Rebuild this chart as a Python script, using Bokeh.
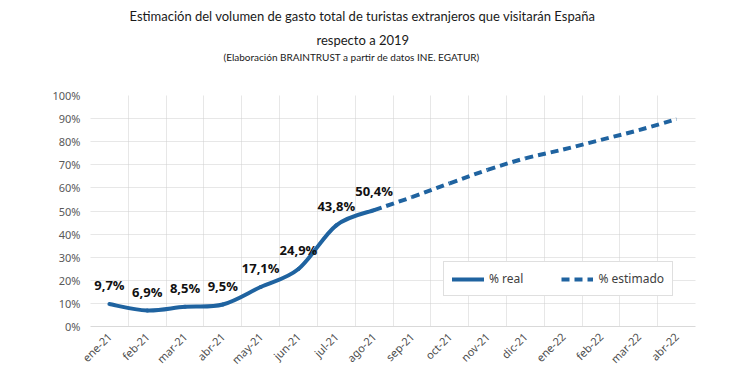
from bokeh.plotting import figure
from bokeh.models import Range1d, FixedTicker, Title, Legend, LegendItem, ColumnDataSource, LabelSet
from bokeh.core.properties import value
from bokeh.embed import file_html
from bokeh.resources import INLINE

months = ["ene-21", "feb-21", "mar-21", "abr-21", "may-21", "jun-21", "jul-21", "ago-21",
          "sep-21", "oct-21", "nov-21", "dic-21", "ene-22", "feb-22", "mar-22", "abr-22"]
real_values = [9.7, 6.9, 8.5, 9.5, 17.1, 24.9, 43.8, 50.4]
real_labels = ["9,7%", "6,9%", "8,5%", "9,5%", "17,1%", "24,9%", "43,8%", "50,4%"]
est_months = ["ago-21", "sep-21", "oct-21", "nov-21", "dic-21", "ene-22", "feb-22", "mar-22", "abr-22"]
est_values = [50.4, 56.0, 62.0, 67.8, 72.8, 76.6, 80.8, 85.0, 89.8]
y_ticks = [0, 10, 20, 30, 40, 50, 60, 70, 80, 90, 100]

BLUE = "#1f63a0"

def smooth_segments(xs, ys):
    # Catmull-Rom -> cubic bezier control points for a smoothed line through the points
    n = len(xs)
    segs = dict(x0=[], y0=[], x1=[], y1=[], cx0=[], cy0=[], cx1=[], cy1=[])
    for i in range(n - 1):
        i0 = max(i - 1, 0)
        i3 = min(i + 2, n - 1)
        segs["x0"].append(xs[i]); segs["y0"].append(ys[i])
        segs["x1"].append(xs[i + 1]); segs["y1"].append(ys[i + 1])
        segs["cx0"].append(xs[i] + (xs[i + 1] - xs[i0]) / 6)
        segs["cy0"].append(ys[i] + (ys[i + 1] - ys[i0]) / 6)
        segs["cx1"].append(xs[i + 1] - (xs[i3] - xs[i]) / 6)
        segs["cy1"].append(ys[i + 1] - (ys[i3] - ys[i]) / 6)
    return segs

x_real = [months.index(m) for m in months[:len(real_values)]]
x_est = [months.index(m) for m in est_months]

p = figure(width=750, height=375, output_backend="svg", toolbar_location=None,
           x_range=Range1d(-0.5, len(months) - 0.5), y_range=Range1d(0, 100),
           min_border_left=90, min_border_right=55, min_border_bottom=47, min_border_top=0)
p.outline_line_color = None
p.background_fill_color = "white"
p.border_fill_color = "white"

TF = "Lato"
spacer = Title(text=" ", align="left", text_font=TF, text_font_size="20px", text_font_style="normal",
               standoff=6)
t3 = Title(text="(Elaboración BRAINTRUST a partir de datos INE. EGATUR)", align="left",
           text_font=TF, text_font_size="10px", text_font_style="normal", text_color="#1a1a1a",
           offset=133, standoff=2)
t2 = Title(text="respecto a 2019", align="left", text_font=TF, text_font_size="13px",
           text_font_style="normal", text_color="#1a1a1a", offset=226, standoff=0)
t1 = Title(text="Estimación del volumen de gasto total de turistas extranjeros que visitarán España",
           align="left", text_font=TF, text_font_size="13px", text_font_style="normal",
           text_color="#1a1a1a", offset=39, standoff=11)
p.title.visible = False
p.add_layout(spacer, "above")
p.add_layout(t3, "above")
p.add_layout(t2, "above")
p.add_layout(t1, "above")

# axes
p.xaxis.ticker = FixedTicker(ticks=list(range(len(months))))
p.xaxis.major_label_overrides = {i: m for i, m in enumerate(months)}
p.xaxis.major_label_orientation = 0.785
p.xaxis.major_label_text_font = "Noto Sans"
p.xaxis.major_label_text_font_size = "11px"
p.xaxis.major_label_text_color = "#4d4d4d"
p.xaxis.major_tick_line_color = None
p.xaxis.minor_tick_line_color = None
p.xaxis.major_tick_out = 0
p.xaxis.major_tick_in = 0
p.xaxis.minor_tick_out = 0
p.xaxis.axis_line_color = "#d9d9d9"
p.xaxis.major_label_standoff = 8

p.yaxis.ticker = FixedTicker(ticks=y_ticks)
p.yaxis.major_label_overrides = {v: f"{v}%" for v in y_ticks}
p.yaxis.major_label_text_font = "Noto Sans"
p.yaxis.major_label_text_font_size = "11px"
p.yaxis.major_label_text_color = "#595959"
p.yaxis.major_tick_line_color = None
p.yaxis.minor_tick_line_color = None
p.yaxis.major_tick_out = 0
p.yaxis.major_tick_in = 0
p.yaxis.minor_tick_out = 0
p.yaxis.axis_line_color = None
p.yaxis.major_label_standoff = 10

p.ygrid.ticker = FixedTicker(ticks=y_ticks)
p.ygrid.grid_line_color = "#cfcfcf"
p.ygrid.grid_line_dash = "1 1"
p.xgrid.ticker = FixedTicker(ticks=[i - 0.5 for i in range(len(months) + 1)])
p.xgrid.grid_line_color = "#cfcfcf"
p.xgrid.grid_line_dash = "1 1"

# lines
src_real = ColumnDataSource(smooth_segments(x_real, real_values))
src_est = ColumnDataSource(smooth_segments(x_est, est_values))
r_real = p.bezier(x0="x0", y0="y0", x1="x1", y1="y1", cx0="cx0", cy0="cy0", cx1="cx1", cy1="cy1",
                  source=src_real, line_color=BLUE, line_width=4, line_cap="round")
r_est = p.bezier(x0="x0", y0="y0", x1="x1", y1="y1", cx0="cx0", cy0="cy0", cx1="cx1", cy1="cy1",
                 source=src_est, line_color=BLUE, line_width=4, line_dash="8 5")

# data labels
lab_src = ColumnDataSource(dict(x=x_real, y=real_values, t=real_labels))
labels = LabelSet(x="x", y="y", text="t", source=lab_src, text_align="center",
                  text_baseline="bottom", y_offset=10, text_font=value("Open Sans"),
                  text_font_style="bold", text_font_size="13px", text_color="#111111")
p.add_layout(labels)

# legend
legend = Legend(items=[LegendItem(label="% real", renderers=[r_real], index=0),
                       LegendItem(label="% estimado", renderers=[r_est], index=0)],
                orientation="horizontal", location=(353, 30), glyph_width=32, glyph_height=12,
                label_height=14,
                label_text_font="Noto Sans", label_text_font_size="12px", label_text_color="#404040",
                label_standoff=5, spacing=38, padding=8, margin=0,
                border_line_color="#bfbfbf", border_line_width=1, background_fill_alpha=1)
p.add_layout(legend, "center")

open("out.html", "w").write(file_html(p, INLINE))
